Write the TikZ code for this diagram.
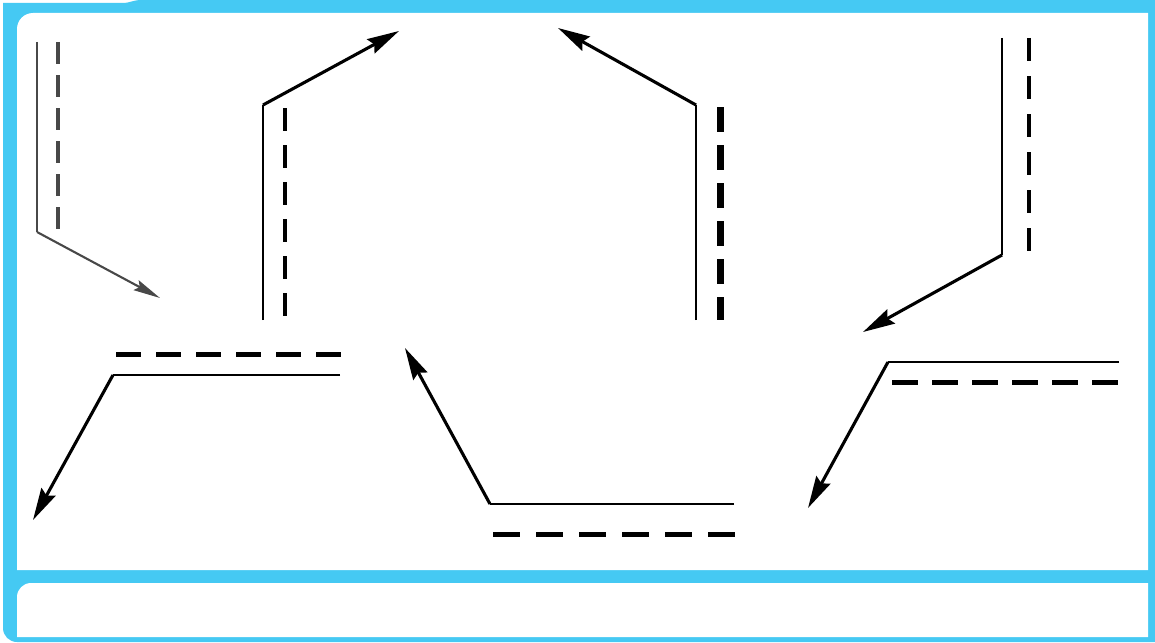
\documentclass[tikz,border=0pt]{standalone}
\usetikzlibrary{arrows.meta}
\definecolor{framecol}{RGB}{69,201,243}
\definecolor{softink}{RGB}{72,72,72}
\begin{document}
\begin{tikzpicture}[x=1pt,y=-1pt,
  ray/.style={line width=3.1pt,-{Stealth[length=32pt,width=16pt,inset=4pt]}},
  edgeln/.style={line width=2.9pt},
  dashln/.style={line width=#1}]
  \useasboundingbox (0,0) rectangle (1155,642);
  % Frame
  \fill[framecol] (3,3) -- (122,3) .. controls (131,3) and (132,0) .. (142,0) -- (1155,0)
    -- (1155,642) [rounded corners=14pt] -- (3,642) [sharp corners] -- cycle;
  \fill[white] (17,570) [rounded corners=16pt] -- (17,13) [sharp corners] -- (1148,13) -- (1148,570) -- cycle;
  \fill[white] (17,637) [rounded corners=14pt] -- (17,583) [sharp corners] -- (1148,583) -- (1148,637) -- cycle;
  % Top row
  \coordinate (p1) at (37,232);
  \coordinate (p2) at (263,105);
  \coordinate (p3) at (696,105);
  \coordinate (p4) at (1002,255);
  \draw[softink, line width=2.1pt] (37,42) -- (p1);
  \draw[softink, line width=2.1pt, -{Stealth[length=27pt,width=11pt,inset=4pt]}] (p1) -- (160,298);
  \draw[softink, dashln=3.5pt, dash pattern=on 22pt off 11pt] (58,42) -- (58,230);
  \draw[edgeln] (263,320) -- (p2);
  \draw[ray] (p2) -- (399,31);
  \draw[dashln=4pt, dash pattern=on 23pt off 14pt] (285,108) -- (285,320);
  \draw[edgeln] (696,320) -- (p3);
  \draw[ray] (p3) -- (558,28);
  \draw[dashln=7pt, dash pattern=on 25pt off 13pt] (720,107) -- (720,320);
  \draw[edgeln] (1002,38) -- (p4);
  \draw[ray] (p4) -- (863,332);
  \draw[dashln=4.5pt, dash pattern=on 23pt off 15pt] (1029,38) -- (1029,252);
  % Bottom row
  \coordinate (q1) at (113,375);
  \coordinate (q2) at (490,504);
  \coordinate (q3) at (888,362);
  \draw[dashln=5pt, dash pattern=on 25pt off 15pt] (116,354) -- (341,354);
  \draw[edgeln] (340,375) -- (q1);
  \draw[ray] (q1) -- (33,520);
  \draw[edgeln] (734,504) -- (q2);
  \draw[ray] (q2) -- (405,348);
  \draw[dashln=5pt, dash pattern=on 27pt off 16pt] (493,534) -- (735,534);
  \draw[edgeln] (1119,362) -- (q3);
  \draw[ray] (q3) -- (808,508);
  \draw[dashln=5pt, dash pattern=on 26pt off 14pt] (892,382) -- (1119,382);
\end{tikzpicture}
\end{document}
